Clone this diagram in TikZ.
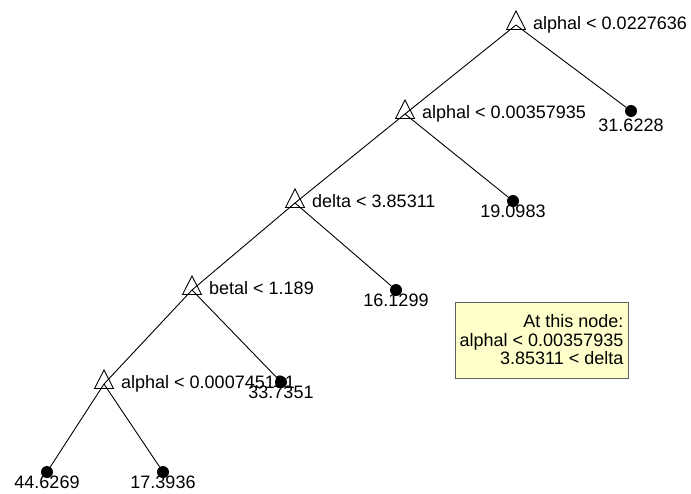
\documentclass[tikz,border=0pt]{standalone}
\usepackage{fontspec}
\setmainfont{Liberation Sans}
\definecolor{notefill}{RGB}{255,255,204}
\definecolor{noteedge}{RGB}{96,96,96}
\tikzset{
  x=1pt, y=-1pt,
  treeedge/.style={draw=black, line width=0.9pt},
  leafdot/.style={circle, fill=black, inner sep=0pt, minimum size=12pt},
  labelfont/.style={font=\fontsize{18}{18.5}\selectfont},
  splitlabel/.style={labelfont, anchor=base west, inner sep=0pt, xshift=17pt, yshift=-4.5pt},
  leaflabel/.style={labelfont, anchor=base, inner sep=0pt, yshift=-16pt},
  infobox/.style={labelfont, draw=noteedge, fill=notefill, line width=0.9pt,
    align=right, inner xsep=4pt, minimum width=173pt, minimum height=76pt},
  splitmark/.pic={\draw[line width=0.9pt] (0,-14) -- (9.5,4.5) -- (-9.5,4.5) -- cycle;}
}
\begin{document}
\begin{tikzpicture}
\useasboundingbox (0,0) rectangle (691,493);

% split points
\coordinate (n1) at (516,25);
\coordinate (n2) at (405,114);
\coordinate (n3) at (295,203);
\coordinate (n4) at (192,290);
\coordinate (n5) at (104,384);

% leaves
\node[leafdot] (l1) at (631,111) {};
\node[leafdot] (l2) at (513,201) {};
\node[leafdot] (l3) at (396,290) {};
\node[leafdot] (l4) at (281,382) {};
\node[leafdot] (l5) at (47,472) {};
\node[leafdot] (l6) at (163,472) {};

% branches
\draw[treeedge] (n1) -- (n2);
\draw[treeedge] (n1) -- (l1);
\draw[treeedge] (n2) -- (n3);
\draw[treeedge] (n2) -- (l2);
\draw[treeedge] (n3) -- (n4);
\draw[treeedge] (n3) -- (l3);
\draw[treeedge] (n4) -- (n5);
\draw[treeedge] (n4) -- (l4);
\draw[treeedge] (n5) -- (l5);
\draw[treeedge] (n5) -- (l6);

% split markers
\foreach \n in {n1,n2,n3,n4,n5} \pic at (\n) {splitmark};

% split rules
\node[splitlabel] (s1) at (n1) {alphal < 0.0227636};
\node[splitlabel] (s2) at (n2) {alphal < 0.00357935};
\node[splitlabel] (s3) at (n3) {delta < 3.85311};
\node[splitlabel] (s4) at (n4) {betal < 1.189};
\node[splitlabel] (s5) at (n5) {alphal < 0.000745181};

% leaf values
\node[leaflabel, yshift=-4pt] (v1) at (l1) {31.6228};
\node[leaflabel] (v2) at (l2) {19.0983};
\node[leaflabel] (v3) at (l3) {16.1299};
\node[leaflabel] (v4) at (l4) {33.7351};
\node[leaflabel] (v5) at (l5) {44.6269};
\node[leaflabel] (v6) at (l6) {17.3936};

% note
\node[infobox] (info) at (541.5,340) {At this node:\\alphal < 0.00357935\\3.85311 < delta};
\end{tikzpicture}
\end{document}
